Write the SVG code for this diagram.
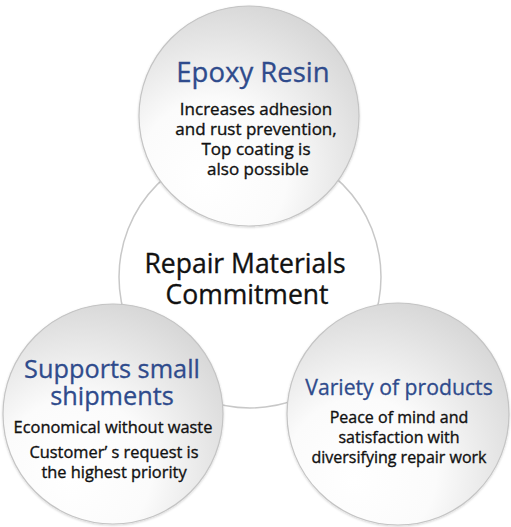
<svg xmlns="http://www.w3.org/2000/svg" width="511" height="527" viewBox="0 0 511 527">
<defs>
<radialGradient id="g" cx="0.38" cy="0.72" r="0.85" fx="0.3" fy="0.8">
<stop offset="0" stop-color="#ffffff"/>
<stop offset="0.4" stop-color="#fbfbfb"/>
<stop offset="1" stop-color="#cfcfcf"/>
</radialGradient>
<filter id="sh" x="-10%" y="-10%" width="120%" height="120%">
<feDropShadow dx="0" dy="1" stdDeviation="1.2" flood-color="#000" flood-opacity="0.18"/>
</filter>
</defs>
<style>
.c{fill:url(#g);stroke:#c4c4c4;stroke-width:1.2;filter:url(#sh)}
.m{fill:#ffffff;stroke:#c8c8c8;stroke-width:1.5}
.t{font-family:"Open Sans","Noto Sans",sans-serif;fill:#2f4b8c;text-anchor:middle;stroke:#2f4b8c;stroke-width:0.3}
.b{font-family:"Open Sans","Noto Sans",sans-serif;fill:#111;text-anchor:middle;stroke:#111;stroke-width:0.35}
</style>
<rect width="511" height="527" fill="#ffffff"/>
<g id="center">
<circle class="m" cx="250" cy="277" r="131"/>
<text class="b" x="245" y="273" font-size="26.5">Repair Materials</text>
<text class="b" x="247" y="304" font-size="26.5">Commitment</text>
</g>
<g id="top">
<circle class="c" cx="249" cy="116" r="110"/>
<text class="t" x="253" y="82" font-size="27.5">Epoxy Resin</text>
<text class="b" x="256" y="115" font-size="17">Increases adhesion</text>
<text class="b" x="256" y="135" font-size="17">and rust prevention,</text>
<text class="b" x="256" y="155" font-size="17">Top coating is</text>
<text class="b" x="258" y="175" font-size="17">also possible</text>
</g>
<g id="left">
<circle class="c" cx="113" cy="414" r="110"/>
<text class="t" x="112" y="378" font-size="25.3">Supports small</text>
<text class="t" x="112" y="405" font-size="25.3">shipments</text>
<text class="b" x="113" y="433" font-size="16.4">Economical without waste</text>
<text class="b" x="114" y="458" font-size="16.4">Customer’ s request is</text>
<text class="b" x="114" y="478" font-size="16.4">the highest priority</text>
</g>
<g id="right">
<circle class="c" cx="398" cy="414" r="111"/>
<text class="t" x="399" y="395" font-size="21.2">Variety of products</text>
<text class="b" x="399" y="423" font-size="16">Peace of mind and</text>
<text class="b" x="399" y="443" font-size="16">satisfaction with</text>
<text class="b" x="399" y="463" font-size="16">diversifying repair work</text>
</g>
<g id="connectors"></g>
</svg>
